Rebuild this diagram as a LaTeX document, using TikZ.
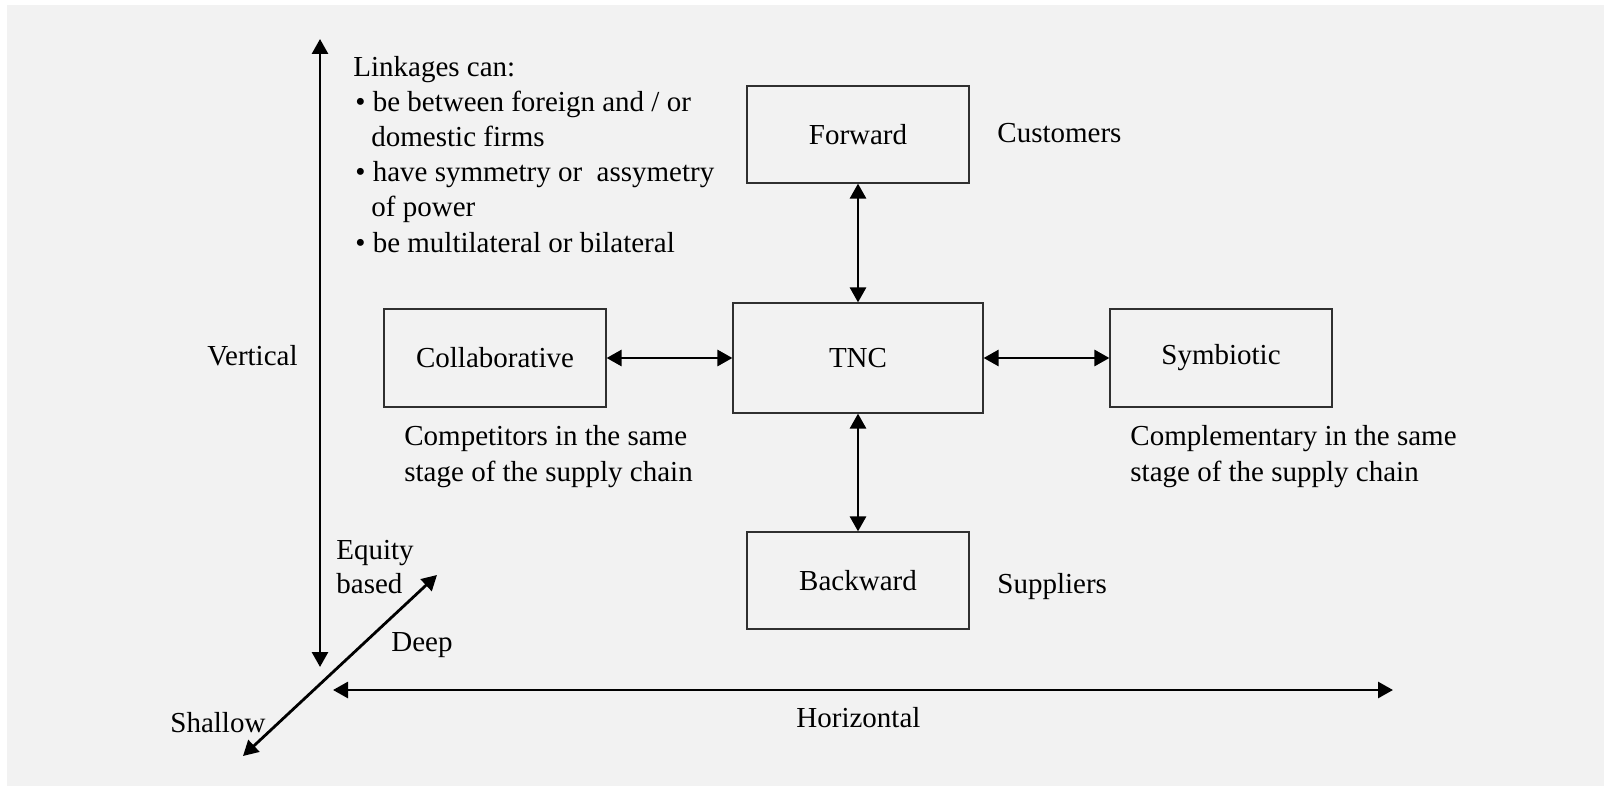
\documentclass[tikz,border=0pt]{standalone}
\usepackage{fontspec}
\setmainfont{Liberation Serif}
\usetikzlibrary{arrows.meta}
\definecolor{panel}{HTML}{F2F2F2}
\definecolor{boxline}{HTML}{303030}
\tikzset{
  box/.style={draw=boxline, line width=0.6pt, fill=panel, inner sep=0pt, font=\fontsize{14.5}{17.5}\selectfont},
  txt/.style={anchor=base west, inner sep=0pt, font=\fontsize{14.5}{17.5}\selectfont},
  link/.style={line width=1.4pt, {Triangle[length=7.5pt,width=8pt]}-{Triangle[length=7.5pt,width=8pt]}}
}
\begin{document}
\begin{tikzpicture}[x=0.5pt,y=-0.5pt]
\useasboundingbox (0,0) rectangle (1604,786);
\fill[white] (0,0) rectangle (1604,786);
\fill[panel] (7,5) rectangle (1604,786);

% boxes
\node[box, minimum width=111pt, minimum height=48.5pt] (fwd) at (858,134.5) {Forward};
\node[box, minimum width=125pt, minimum height=55pt] (tnc) at (858,358) {TNC};
\node[box, minimum width=111pt, minimum height=49pt] (col) at (495,358) {Collaborative};
\node[box, minimum width=111pt, minimum height=49pt] (sym) at (1221,358) {Symbiotic};
\node[box, minimum width=111pt, minimum height=48.5pt] (bwd) at (858,580.5) {Backward};

% connectors
\draw[link] (fwd.south) -- (tnc.north);
\draw[link] (tnc.south) -- (bwd.north);
\draw[link] (col.east) -- (tnc.west);
\draw[link] (tnc.east) -- (sym.west);

% axes
\coordinate (vtop) at (320,39);
\coordinate (vbot) at (320,667);
\coordinate (hleft) at (333,690);
\coordinate (hright) at (1393,690);
\coordinate (dlow) at (243,756);
\coordinate (dhigh) at (437,575);
\draw[link] (vbot) -- (vtop);
\draw[link] (hleft) -- (hright);
\draw[link] (dlow) -- (dhigh);

% texts
\node[txt] (l0) at (353,77) {Linkages can:};
\node[txt] (l1) at (355,112) {\textbullet\ be between foreign and / or};
\node[txt] (l2) at (371,147) {domestic firms};
\node[txt] (l3) at (355,182) {\textbullet\ have symmetry or~ assymetry};
\node[txt] (l4) at (371,217) {of power};
\node[txt] (l5) at (355,252) {\textbullet\ be multilateral or bilateral};

\node[txt] (cust) at (997,143) {Customers};
\node[txt] (supp) at (997,593) {Suppliers};
\node[txt] (comp1) at (404,445) {Competitors in the same};
\node[txt] (comp2) at (404,481) {stage of the supply chain};
\node[txt] (cmpl1) at (1130,445) {Complementary in the same};
\node[txt] (cmpl2) at (1130,481) {stage of the supply chain};
\node[txt] (vert) at (207,365) {Vertical};
\node[txt] (horz) at (796,727) {Horizontal};
\node[txt] (shal) at (170,732) {Shallow};
\node[txt] (eq1) at (336,559) {Equity};
\node[txt] (eq2) at (336,593) {based};
\node[txt] (deep) at (391,651) {Deep};
\end{tikzpicture}
\end{document}
